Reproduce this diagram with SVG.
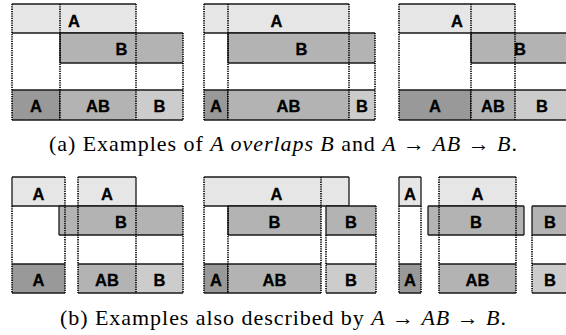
<svg xmlns="http://www.w3.org/2000/svg" width="566" height="335" viewBox="0 0 566 335">
<style>
.lt{fill:#e6e6e6}.md{fill:#b3b3b3}.dk{fill:#999999}.pl{fill:#cccccc}
.e{fill:none;stroke:#1a1a1a;stroke-width:1.3}
.g{fill:none;stroke:#000;stroke-width:1.6;stroke-dasharray:1.3 1}
.t{font-family:"Liberation Sans",Arial,sans-serif;font-weight:bold;font-size:16.5px;text-anchor:middle;fill:#000;stroke:#000;stroke-width:0.3}
.c{font-family:"Liberation Serif","Times New Roman",serif;font-size:22px;text-anchor:middle;fill:#000}
</style>
<rect width="566" height="335" fill="#fff"/>
<!-- Panel a1 -->
<g id="a1">
 <g id="a1-A"><rect class="lt" x="12" y="4" width="124" height="29"/><path class="e" d="M12 4H136M12 33H136"/><text class="t" x="74" y="27">A</text></g>
 <g id="a1-B"><rect class="md" x="60" y="33" width="123" height="30"/><path class="e" d="M60 33H183M60 63H183M60 33V63"/><text class="t" x="121.5" y="55">B</text></g>
 <g id="a1-rA"><rect class="dk" x="12" y="90" width="48" height="30"/><path class="e" d="M12 90H60M12 120H60M60 90V120"/><text class="t" x="36" y="112">A</text></g>
 <g id="a1-rAB"><rect class="md" x="60" y="90" width="76" height="30"/><path class="e" d="M60 90H136M60 120H136"/><text class="t" x="98" y="112">AB</text></g>
 <g id="a1-rB"><rect class="pl" x="136" y="90" width="47" height="30"/><path class="e" d="M136 90H183M136 120H183"/><text class="t" x="159.5" y="112">B</text></g>
</g>
<!-- Panel a2 -->
<g id="a2">
 <g id="a2-A"><rect class="lt" x="204" y="4" width="145" height="29"/><path class="e" d="M204 4H349M204 33H349"/><text class="t" x="276.5" y="27">A</text></g>
 <g id="a2-B"><rect class="md" x="228" y="33" width="147" height="30"/><path class="e" d="M228 33H375M228 63H375M228 33V63"/><text class="t" x="301.5" y="55">B</text></g>
 <g id="a2-rA"><rect class="dk" x="204" y="90" width="24" height="30"/><path class="e" d="M204 90H228M204 120H228M228 90V120"/><text class="t" x="216" y="112">A</text></g>
 <g id="a2-rAB"><rect class="md" x="228" y="90" width="121" height="30"/><path class="e" d="M228 90H349M228 120H349"/><text class="t" x="288.5" y="112">AB</text></g>
 <g id="a2-rB"><rect class="pl" x="349" y="90" width="26" height="30"/><path class="e" d="M349 90H375M349 120H375"/><text class="t" x="362" y="112">B</text></g>
</g>
<!-- Panel a3 -->
<g id="a3">
 <g id="a3-A"><rect class="lt" x="399" y="4" width="116" height="29"/><path class="e" d="M399 4H515M399 33H515"/><text class="t" x="457" y="27">A</text></g>
 <g id="a3-B"><rect class="md" x="471" y="33" width="98" height="30"/><path class="e" d="M471 33H569M471 63H569M471 33V63"/><text class="t" x="520" y="55">B</text></g>
 <g id="a3-rA"><rect class="dk" x="399" y="90" width="72" height="30"/><path class="e" d="M399 90H471M399 120H471M471 90V120"/><text class="t" x="435" y="112">A</text></g>
 <g id="a3-rAB"><rect class="md" x="471" y="90" width="44" height="30"/><path class="e" d="M471 90H515M471 120H515"/><text class="t" x="493" y="112">AB</text></g>
 <g id="a3-rB"><rect class="pl" x="515" y="90" width="54" height="30"/><path class="e" d="M515 90H569M515 120H569"/><text class="t" x="542" y="112">B</text></g>
</g>
<!-- Panel b1 -->
<g id="b1">
 <g id="b1-A1"><rect class="lt" x="12" y="177" width="53" height="29"/><path class="e" d="M12 177H65M12 206H65M12 177V206"/><text class="t" x="38.5" y="200">A</text></g>
 <g id="b1-A2"><rect class="lt" x="78" y="177" width="58" height="29"/><path class="e" d="M78 177H136M78 206H136M136 177V206"/><text class="t" x="107" y="200">A</text></g>
 <g id="b1-B"><rect class="md" x="59" y="206" width="124" height="29"/><path class="e" d="M59 206H183M59 235H183M59 206V235"/><text class="t" x="121" y="228">B</text></g>
 <g id="b1-rA"><rect class="dk" x="12" y="264" width="53" height="29"/><path class="e" d="M12 264H65M12 293H65"/><text class="t" x="38.5" y="286">A</text></g>
 <g id="b1-rAB"><rect class="md" x="78" y="264" width="58" height="29"/><path class="e" d="M78 264H136M78 293H136"/><text class="t" x="107" y="286">AB</text></g>
 <g id="b1-rB"><rect class="pl" x="136" y="264" width="47" height="29"/><path class="e" d="M136 264H183M136 293H183"/><text class="t" x="159.5" y="286">B</text></g>
</g>
<!-- Panel b2 -->
<g id="b2">
 <g id="b2-A"><rect class="lt" x="204" y="177" width="145" height="29"/><path class="e" d="M204 177H349M204 206H349M349 177V206"/><text class="t" x="276.5" y="200">A</text></g>
 <g id="b2-B1"><rect class="md" x="228" y="206" width="93" height="29"/><path class="e" d="M228 206H321M228 235H321M228 206V235"/><text class="t" x="274.5" y="228">B</text></g>
 <g id="b2-B2"><rect class="md" x="326" y="206" width="50" height="29"/><path class="e" d="M326 206H376M326 235H376M326 206V235"/><text class="t" x="351" y="228">B</text></g>
 <g id="b2-rA"><rect class="dk" x="204" y="264" width="24" height="29"/><path class="e" d="M204 264H228M204 293H228M228 264V293"/><text class="t" x="216" y="286">A</text></g>
 <g id="b2-rAB"><rect class="md" x="228" y="264" width="93" height="29"/><path class="e" d="M228 264H321M228 293H321"/><text class="t" x="274.5" y="286">AB</text></g>
 <g id="b2-rB"><rect class="pl" x="326" y="264" width="50" height="29"/><path class="e" d="M326 264H376M326 293H376"/><text class="t" x="351" y="286">B</text></g>
</g>
<!-- Panel b3 -->
<g id="b3">
 <g id="b3-A1"><rect class="lt" x="399" y="177" width="22" height="29"/><path class="e" d="M399 177H421M399 206H421M399 177V206M421 177V206"/><text class="t" x="410" y="200">A</text></g>
 <g id="b3-A2"><rect class="lt" x="439" y="177" width="77" height="29"/><path class="e" d="M439 177H516M439 206H516"/><text class="t" x="477.5" y="200">A</text></g>
 <g id="b3-B1"><rect class="md" x="428" y="206" width="96" height="29"/><path class="e" d="M428 206H524M428 235H524M428 206V235M524 206V235"/><text class="t" x="476" y="228">B</text></g>
 <g id="b3-B2"><rect class="md" x="532" y="206" width="37" height="29"/><path class="e" d="M532 206H569M532 235H569M532 206V235"/><text class="t" x="550" y="228">B</text></g>
 <g id="b3-rA"><rect class="dk" x="399" y="264" width="22" height="29"/><path class="e" d="M399 264H421M399 293H421"/><text class="t" x="410" y="286">A</text></g>
 <g id="b3-rAB"><rect class="md" x="439" y="264" width="77" height="29"/><path class="e" d="M439 264H516M439 293H516"/><text class="t" x="477.5" y="286">AB</text></g>
 <g id="b3-rB"><rect class="pl" x="532" y="264" width="37" height="29"/><path class="e" d="M532 264H569M532 293H569"/><text class="t" x="550" y="286">B</text></g>
</g>
<!-- dotted guide lines -->
<g id="connectors">
 <path class="g" d="M12 4V120M60 4V120M136 4V120M183 33V120"/>
 <path class="g" d="M204 4V120M228 4V120M349 4V120M375 33V120"/>
 <path class="g" d="M399 4V120M471 4V120M515 4V120"/>
 <path class="g" d="M12 206V293M65 177V293M78 177V293M136 206V293M183 206V293"/>
 <path class="g" d="M204 177V293M228 206V293M321 177V293M326 235V293M376 206V293"/>
 <path class="g" d="M399 206V293M421 206V293M439 177V293M516 177V293M532 235V293"/>
</g>
<text class="c" x="283" y="151" textLength="468" lengthAdjust="spacing">(a) Examples of <tspan font-style="italic">A overlaps B</tspan> and <tspan font-style="italic">A</tspan> → <tspan font-style="italic">AB</tspan> → <tspan font-style="italic">B</tspan>.</text>
<text class="c" x="283" y="325" textLength="446" lengthAdjust="spacing">(b) Examples also described by <tspan font-style="italic">A</tspan> → <tspan font-style="italic">AB</tspan> → <tspan font-style="italic">B</tspan>.</text>
</svg>
